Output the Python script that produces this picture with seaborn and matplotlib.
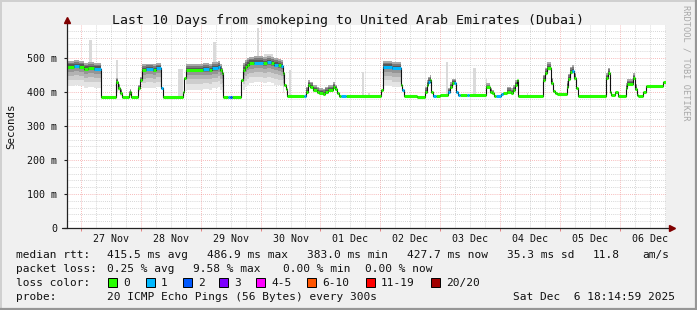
import numpy as np
import pandas as pd
import matplotlib
matplotlib.use("Agg")
import matplotlib.pyplot as plt
import seaborn as sns
from matplotlib.patches import Rectangle
from matplotlib.lines import Line2D

# ---------------- data (hours since 26 Nov 18:15, values in ms) ----------------
hours = [0.0, 3.0, 5.0, 7.0, 8.6, 11.0, 14.0, 20.0, 20.6, 21.4, 22.2, 25.0, 25.6, 26.0,
         28.8, 29.6, 30.2, 31.8, 34.6, 35.8, 38.0, 38.8, 46.6, 47.0, 47.8, 54.6, 57.0,
         58.2, 60.6, 61.4, 62.2, 62.8, 64.6, 65.4, 66.2, 70.0, 70.6, 71.4, 72.2, 73.0,
         75.0, 78.6, 80.2, 81.8, 83.0, 84.6, 85.8, 86.6, 87.0, 87.8, 88.4, 95.0, 96.0,
         96.8, 97.6, 98.8, 100.4, 101.0, 102.8, 103.6, 104.8, 106.8, 107.6, 108.4, 109.0,
         109.8, 111.8, 126.2, 126.8, 130.6, 134.2, 134.6, 135.2, 140.6, 143.8, 144.4,
         145.0, 145.6, 146.2, 146.8, 148.2, 149.8, 153.0, 153.6, 154.4, 155.2, 156.0,
         156.8, 157.6, 160.4, 161.2, 168.2, 169.6, 170.4, 171.4, 172.2, 174.2, 175.0,
         176.4, 178.2, 179.0, 179.6, 180.4, 181.0, 191.0, 191.8, 192.4, 194.2, 195.0,
         195.6, 196.6, 200.4, 201.0, 201.6, 202.6, 203.2, 204.0, 204.8, 216.2, 216.8,
         217.6, 218.2, 219.8, 220.8, 224.0, 224.6, 226.8, 227.6, 228.4, 229.0, 230.8,
         232.0, 239.0]
median_ms = [474, 476, 474, 468, 470, 468, 386, 430, 411, 397, 386, 395, 401, 386,
             411, 435, 466, 468, 466, 470, 411, 386, 401, 441, 465, 467, 465,
             470, 474, 465, 455, 386, 386, 386, 386, 435, 465, 474, 480, 485,
             486, 484, 487, 484, 480, 478, 476, 455, 420, 410, 388, 388, 401,
             420, 416, 406, 401, 397, 395, 401, 406, 415, 408, 397, 388,
             388, 388, 406, 474, 470, 420, 406, 388, 385, 401, 420,
             430, 435, 400, 389, 389, 391, 401, 416, 427, 427, 401,
             391, 391, 391, 391, 415, 401, 397, 389, 389, 395, 397,
             401, 397, 406, 420, 435, 389, 435, 455, 471, 426, 403,
             397, 394, 416, 438, 458, 462, 441, 411, 389, 441, 457,
             401, 391, 401, 389, 411, 423, 441, 410, 391, 389, 401,
             419, 430]
loss_class = [0, 1, 0, 0, 0, 1, 0, 0, 0, 0, 0, 0, 0, 0,
              0, 0, 0, 1, 0, 1, 1, 0, 0, 0, 0, 1, 0,
              1, 1, 0, 0, 0, 1, 2, 0, 0, 0, 0, 0, 0,
              1, 0, 1, 0, 1, 0, 1, 0, 0, 0, 0, 1, 0,
              0, 0, 0, 0, 0, 0, 0, 0, 0, 0, 0, 0,
              1, 0, 0, 1, 1, 0, 1, 0, 0, 0, 0,
              1, 0, 0, 1, 0, 0, 1, 0, 0, 1, 1,
              1, 0, 1, 0, 0, 0, 0, 0, 1, 1, 0,
              0, 0, 0, 0, 0, 0, 0, 0, 0, 0, 0,
              0, 0, 0, 0, 0, 1, 0, 0, 0, 0, 0,
              0, 0, 0, 0, 0, 0, 0, 0, 0, 0, 0,
              0, 0]
end_hour = 240.0

# smoke spread around the median (start h, end h, ms below, ms above)
smoke_start = [0.0, 20.0, 25.0, 28.8, 30.2, 47.8, 70.6, 96.0, 126.8, 143.8,
               153.0, 168.2, 176.4, 191.0, 200.4, 216.2, 224.0]
smoke_end = [14.0, 22.2, 26.0, 30.2, 38.0, 62.8, 87.0, 108.4, 134.2, 146.2,
             156.0, 171.4, 180.4, 195.0, 204.0, 218.2, 228.4]
smoke_below = [55, 8, 3, 10, 55, 58, 58, 6, 55, 6, 6, 5, 5, 8, 8, 6, 6]
smoke_above = [18, 12, 8, 10, 15, 17, 19, 14, 18, 14, 12, 10, 14, 16, 16, 14, 14]

# isolated outlier spikes (start h, end h, bottom ms, top ms)
spike_start = [8.9, 20.0, 44.6, 58.6, 76.2, 79.0, 89.2, 118.2, 121.0, 152.2, 163.0, 168.2, 184.4]
spike_end = [10.4, 20.6, 46.6, 59.8, 77.0, 82.6, 90.0, 119.0, 121.6, 153.0, 164.2, 168.6, 184.8]
spike_bottom = [415, 400, 386, 450, 470, 480, 388, 388, 388, 391, 391, 400, 389]
spike_top = [553, 494, 468, 548, 588, 512, 465, 460, 396, 488, 470, 440, 396]

day_labels = ["27 Nov", "28 Nov", "29 Nov", "30 Nov", "01 Dec",
              "02 Dec", "03 Dec", "04 Dec", "05 Dec", "06 Dec"]
first_midnight = 5.75   # 27 Nov 00:00 in hours since start
y_ticks = [0, 100, 200, 300, 400, 500]
y_tick_labels = ["0", "100 m", "200 m", "300 m", "400 m", "500 m"]

loss_labels = ["0", "1", "2", "3", "4-5", "6-10", "11-19", "20/20"]
loss_colors = ["#26ff00", "#00b8ff", "#0059ff", "#7e00ff", "#ff00ff", "#ff5500",
               "#ff0000", "#a10000"]

# ---------------- figure ----------------
W, H = 697, 310
sns.set_theme(style="white")
plt.rcParams["font.family"] = ["DejaVu Sans Mono"]
fig = plt.figure(figsize=(W / 100, H / 100), dpi=100)
fig.patch.set_facecolor("#f0f0f0")

ax_l, ax_r, ax_t, ax_b = 66.5, 665.5, 25, 228
ax = fig.add_axes([ax_l / W, 1 - ax_b / H, (ax_r - ax_l) / W, (ax_b - ax_t) / H])
ax.set_facecolor("white")
ymax = 597
ax.set_xlim(0, end_hour)
ax.set_ylim(0, ymax)

# grid
minor_col = (0.62, 0.62, 0.62, 0.55)
major_col = (0.92, 0.35, 0.35, 0.55)
for v in np.arange(20, ymax, 20):
    if v % 100:
        ax.axhline(v, color=minor_col, lw=0.6, ls=(0, (1, 1.5)), zorder=0)
for v in y_ticks[1:]:
    ax.axhline(v, color=major_col, lw=0.6, ls=(0, (1, 1.5)), zorder=0)
midnights = [first_midnight + 24 * i for i in range(10)]
six_h = [first_midnight - 6 + 6 * i for i in range(41) if 0 < first_midnight - 6 + 6 * i < end_hour]
for h in six_h:
    if (h - first_midnight) % 24:
        ax.axvline(h, color=minor_col, lw=0.6, ls=(0, (1, 1.5)), zorder=0)
for h in midnights:
    ax.axvline(h, color=major_col, lw=0.6, ls=(0, (1, 1.5)), zorder=0)

# spikes
for s, e, b, t in zip(spike_start, spike_end, spike_bottom, spike_top):
    ax.fill_between([s, e], [b, b], [t, t], color="#dadada", lw=0, zorder=1)

# smoke on a common step grid
hrs = np.array(hours)
med = np.array(median_ms, dtype=float)
grid = np.unique(np.concatenate([hrs, smoke_start, smoke_end, [end_hour]]))
gm = med[np.searchsorted(hrs, grid, side="right") - 1]
below = np.zeros_like(gm)
above = np.zeros_like(gm)
for s, e, b, a in zip(smoke_start, smoke_end, smoke_below, smoke_above):
    m = (grid >= s) & (grid < e)
    below[m] = b
    above[m] = a
lower_tiers = [(1.0, "#e4e4e4"), (0.72, "#cdcdcd"), (0.48, "#b2b2b2"),
               (0.28, "#959595"), (0.12, "#767676")]
for k, c in lower_tiers:
    ax.fill_between(grid, gm - k * below, gm, step="post", color=c, lw=0, zorder=2)
upper_tiers = [(1.0, "#a8a8a8"), (0.7, "#7a7a7a"), (0.4, "#575757")]
for k, c in upper_tiers:
    ax.fill_between(grid, gm, gm + k * above, step="post", color=c, lw=0, zorder=2)

# median: black step connector
step_df = pd.DataFrame({"h": list(hours) + [end_hour],
                        "v": list(median_ms) + [median_ms[-1]]})
sns.lineplot(data=step_df, x="h", y="v", drawstyle="steps-post", color="#111111",
             lw=0.8, estimator=None, sort=False, ax=ax, zorder=3)

# median: loss-coloured segments
rows = []
bounds = list(hours) + [end_hour]
for i, (v, lc) in enumerate(zip(median_ms, loss_class)):
    rows.append({"h": bounds[i], "v": v, "loss": loss_labels[lc], "seg": i})
    rows.append({"h": bounds[i + 1], "v": v, "loss": loss_labels[lc], "seg": i})
seg_df = pd.DataFrame(rows)
pal = dict(zip(loss_labels, loss_colors))
sns.lineplot(data=seg_df, x="h", y="v", hue="loss", units="seg", estimator=None,
             palette=pal, lw=2.2, legend=False, ax=ax, zorder=4,
             solid_capstyle="butt")

# axes styling
for sp in ax.spines.values():
    sp.set_visible(False)
axis_col = "#222222"
ax.plot([-4.5 / 599, 1 + 4 / 599], [0, 0], transform=ax.transAxes, clip_on=False,
        color=axis_col, lw=0.9, zorder=6)
ax.plot([0, 0], [0, 1 + 3 / 203], transform=ax.transAxes, clip_on=False,
        color=axis_col, lw=0.9, zorder=6)
ax.plot([1 + 6 / 599], [0], marker=">", ms=4.5, color="#800000", mec="#800000",
        transform=ax.transAxes, clip_on=False, zorder=7)
ax.plot([0], [1 + 5 / 203], marker="^", ms=4.5, color="#800000", mec="#800000",
        transform=ax.transAxes, clip_on=False, zorder=7)

ax.set_yticks(y_ticks)
ax.set_yticklabels(y_tick_labels)
ax.tick_params(axis="y", which="major", length=2, width=0.8, color=axis_col,
               pad=4.5, labelsize=7.2, labelcolor="#111111", left=True)
ax.set_xticks(midnights)
ax.set_xticklabels([""] * len(midnights))
ax.tick_params(axis="x", which="major", length=2, width=0.6, color="#e07070",
               bottom=True)
ax.set_xticks([m + 12 for m in midnights], minor=True)
ax.set_xticklabels(day_labels, minor=True)
ax.tick_params(axis="x", which="minor", length=0, pad=4.5, labelsize=7.2,
               labelcolor="#111111")
ax.set_xlabel("")
ax.set_ylabel("")

# texts
def ftxt(x, y, s, **kw):
    fig.text(x / W, 1 - y / H, s, **kw)

ftxt(348, 24, "Last 10 Days from smokeping to United Arab Emirates (Dubai)",
     ha="center", va="baseline", fontsize=9.5, color="#111111")
ftxt(11, 126.5, "Seconds", rotation=90, ha="center", va="center", fontsize=7.8,
     color="#111111")
ftxt(686, 5, "RRDTOOL / TOBI OETIKER", rotation=270, ha="center", va="top",
     fontsize=6.2, color="#a8a8a8")

lfs = 8
row1 = [(16, "median rtt:"), (107, "415.5 ms avg"), (207, "486.9 ms max"),
        (307, "383.0 ms min"), (407, "427.7 ms now"), (507, "35.3 ms sd"),
        (593, "11.8"), (642, "am/s")]
row2 = [(16, "packet loss:"), (107, "0.25 % avg"), (193, "9.58 % max"),
        (283, "0.00 % min"), (365, "0.00 % now")]
row4 = [(16, "probe:"), (107, "20 ICMP Echo Pings (56 Bytes) every 300s"),
        (513, "Sat Dec  6 18:14:59 2025")]
for yb, row in [(258, row1), (272, row2), (300, row4)]:
    for x, s in row:
        ftxt(x, yb, s, ha="left", va="baseline", fontsize=lfs, color="#111111")
ftxt(16, 286, "loss color:", ha="left", va="baseline", fontsize=lfs, color="#111111")
box_x = [108, 146, 183, 219, 256, 307, 366, 431]
for bx, lab, col in zip(box_x, loss_labels, loss_colors):
    fig.add_artist(Rectangle((bx / W, 1 - 287 / H), 9 / W, 9 / H,
                             transform=fig.transFigure, facecolor=col,
                             edgecolor="black", lw=0.7))
    ftxt(bx + 15, 286, lab, ha="left", va="baseline", fontsize=lfs, color="#111111")

# frame shading
fig.add_artist(Line2D([0, 1], [1 - 0.7 / H] * 2, transform=fig.transFigure,
                      color="#d0d0d0", lw=1.4))
fig.add_artist(Line2D([0.7 / W] * 2, [0, 1], transform=fig.transFigure,
                      color="#d0d0d0", lw=1.4))
fig.add_artist(Line2D([0, 1], [1.0 / H] * 2, transform=fig.transFigure,
                      color="#969696", lw=1.6))
fig.add_artist(Line2D([1 - 1.0 / W] * 2, [0, 1], transform=fig.transFigure,
                      color="#969696", lw=1.6))

fig.savefig("out.png", dpi=100, facecolor=fig.get_facecolor())
